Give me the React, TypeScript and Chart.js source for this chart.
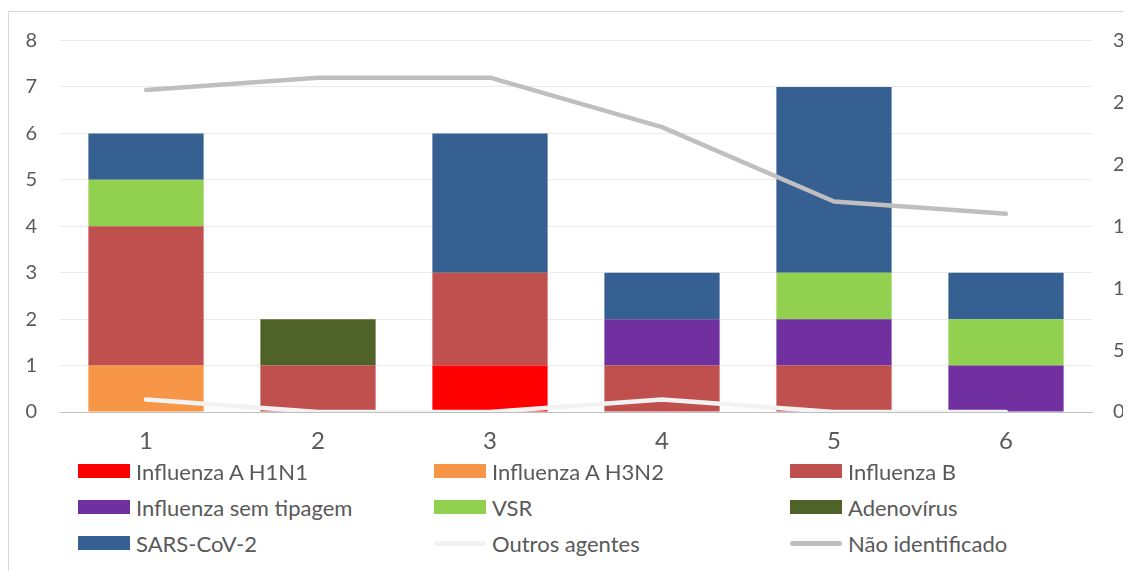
import React, { useEffect, useRef } from "react";
import { Chart, registerables } from "chart.js";

Chart.register(...registerables);

const categories = ["1", "2", "3", "4", "5", "6"];
const h1n1 = [0, 0, 1, 0, 0, 0];
const h3n2 = [1, 0, 0, 0, 0, 0];
const fluB = [3, 1, 2, 1, 1, 0];
const semTipagem = [0, 0, 0, 1, 1, 1];
const vsr = [1, 0, 0, 0, 1, 1];
const adeno = [0, 1, 0, 0, 0, 0];
const sarsCov2 = [1, 0, 3, 1, 4, 1];
const outros = [1, 0, 0, 1, 0, 0];
const naoIdentificado = [26, 27, 27, 23, 17, 16];
const leftTicks = [0, 1, 2, 3, 4, 5, 6, 7, 8];
const rightTicks = [0, 5, 10, 15, 20, 25, 30];

const FONT = "Lato, 'Open Sans', sans-serif";
const TEXT = "#595959";

type Item = { label: string; color: string; kind: "bar" | "line" };

const barSeries = [
  { label: "Influenza A H1N1", data: h1n1, color: "#FF0000" },
  { label: "Influenza A H3N2", data: h3n2, color: "#F79646" },
  { label: "Influenza B", data: fluB, color: "#C0504D" },
  { label: "Influenza sem tipagem", data: semTipagem, color: "#7030A0" },
  { label: "VSR", data: vsr, color: "#92D050" },
  { label: "Adenovírus", data: adeno, color: "#4F6228" },
  { label: "SARS-CoV-2", data: sarsCov2, color: "#376092" },
];
const lineSeries = [
  { label: "Outros agentes", data: outros, color: "#F2F2F2" },
  { label: "Não identificado", data: naoIdentificado, color: "#BFBFBF" },
];

const legendItems: Item[] = [
  ...barSeries.map((s) => ({ label: s.label, color: s.color, kind: "bar" as const })),
  ...lineSeries.map((s) => ({ label: s.label, color: s.color, kind: "line" as const })),
];

export default function App() {
  const ref = useRef<HTMLCanvasElement | null>(null);

  useEffect(() => {
    document.body.style.overflow = "hidden";
    const ctx = ref.current;
    if (!ctx) return;
    const chart = new Chart(ctx, {
      type: "bar",
      data: {
        labels: categories,
        datasets: [
          ...barSeries.map((s) => ({
            type: "bar" as const,
            label: s.label,
            data: s.data,
            backgroundColor: s.color,
            borderWidth: 0,
            stack: "s",
            yAxisID: "y",
            order: 1,
            categoryPercentage: 1,
            barPercentage: 0.67,
          })),
          ...lineSeries.map((s) => ({
            type: "line" as const,
            label: s.label,
            data: s.data,
            borderColor: s.color,
            backgroundColor: s.color,
            borderWidth: 4.5,
            borderCapStyle: "round" as const,
            borderJoinStyle: "round" as const,
            pointRadius: 0,
            tension: 0,
            yAxisID: "y1",
            order: 0,
          })),
        ],
      },
      options: {
        responsive: false,
        animation: false,
        layout: { padding: { top: 32.5, left: 0, right: 0, bottom: 0 } },
        plugins: { legend: { display: false }, tooltip: { enabled: false } },
        scales: {
          x: {
            stacked: true,
            grid: { display: false, drawTicks: false },
            border: { display: true, color: "#BFBFBF", width: 1 },
            ticks: { color: TEXT, font: { family: FONT, size: 24 }, padding: 15 },
            afterFit: (s: any) => {
              s.height = 46;
            },
          },
          y: {
            stacked: true,
            position: "left",
            min: 0,
            max: 8,
            afterBuildTicks: (s: any) => {
              s.ticks = leftTicks.map((v) => ({ value: v }));
            },
            grid: {
              drawTicks: false,
              color: (c: any) => (c.tick && c.tick.value === 0 ? "#BFBFBF" : "#EBEBEB"),
              lineWidth: 1,
            },
            border: { display: false },
            ticks: { color: TEXT, font: { family: FONT, size: 20 }, padding: 23 },
            afterFit: (s: any) => {
              s.width = 52;
              s.paddingTop = 0;
              s.paddingBottom = 0;
            },
          },
          y1: {
            position: "right",
            min: 0,
            max: 30,
            afterBuildTicks: (s: any) => {
              s.ticks = rightTicks.map((v) => ({ value: v }));
            },
            grid: { display: false, drawTicks: false },
            border: { display: false },
            ticks: { color: TEXT, font: { family: FONT, size: 20 }, padding: 21 },
            afterFit: (s: any) => {
              s.width = 39;
              s.paddingTop = 0;
              s.paddingBottom = 0;
            },
          },
        },
      },
    });
    return () => chart.destroy();
  }, []);

  const colX = [70, 426, 782];
  const rowY = [463, 499, 535];

  return (
    <div style={{ position: "relative", width: 1123, height: 563, overflow: "hidden" }}>
      <div
        style={{
          position: "absolute",
          left: 0,
          top: 3,
          width: 1300,
          height: 700,
          border: "1px solid #D9D9D9",
          boxSizing: "border-box",
        }}
      />
      <canvas
        ref={ref}
        width={1123}
        height={450}
        style={{ position: "absolute", left: 0, top: 0, width: 1123, height: 450 }}
      />
      {legendItems.map((it, i) => {
        const col = i % 3;
        const row = Math.floor(i / 3);
        return (
          <div
            key={it.label}
            style={{
              position: "absolute",
              left: colX[col],
              top: rowY[row] - 15,
              height: 30,
              display: "flex",
              alignItems: "center",
              fontFamily: FONT,
              fontSize: 22,
              color: TEXT,
              whiteSpace: "nowrap",
            }}
          >
            {it.kind === "bar" ? (
              <span style={{ display: "inline-block", width: 52, height: 14, background: it.color }} />
            ) : (
              <span
                style={{
                  display: "inline-block",
                  width: 52,
                  height: 5,
                  borderRadius: 3,
                  background: it.color,
                }}
              />
            )}
            <span style={{ marginLeft: 6 }}>{it.label}</span>
          </div>
        );
      })}
    </div>
  );
}
